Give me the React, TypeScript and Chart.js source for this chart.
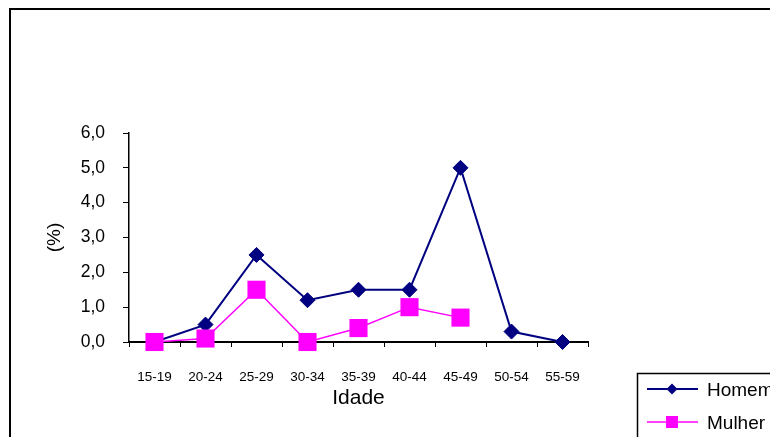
import React, { useEffect, useRef } from "react";
import { Chart, registerables } from "chart.js";

Chart.register(...registerables);

const ageGroups = ["15-19", "20-24", "25-29", "30-34", "35-39", "40-44", "45-49", "50-54", "55-59"];
const homemValues = [0.0, 0.5, 2.5, 1.2, 1.5, 1.5, 5.0, 0.3, 0.0];
const mulherValues: (number | null)[] = [0.0, 0.1, 1.5, 0.0, 0.4, 1.0, 0.7, null, null];
const yTickValues = [0, 1, 2, 3, 4, 5, 6];
const seriesNames = ["Homem", "Mulher"];
const xAxisTitle = "Idade";
const yAxisTitle = "(%)";

const FONT = "'Liberation Sans', Arial, Helvetica, sans-serif";

const framePlugin = {
  id: "frame",
  beforeDraw(chart: any) {
    const ctx = chart.ctx;
    ctx.save();
    ctx.fillStyle = "#ffffff";
    ctx.fillRect(0, 0, chart.width, chart.height);
    ctx.strokeStyle = "#000000";
    ctx.lineWidth = 2;
    ctx.strokeRect(10, 9, 900, 600);
    ctx.restore();
  },
};

const legendPlugin = {
  id: "customLegend",
  afterDraw(chart: any) {
    const ctx = chart.ctx;
    ctx.save();
    ctx.strokeStyle = "#000000";
    ctx.lineWidth = 1.5;
    ctx.strokeRect(637.5, 373.5, 300, 200);
    chart.data.datasets.forEach((ds: any, i: number) => {
      const y = 389 + i * 33;
      ctx.strokeStyle = ds.borderColor;
      ctx.lineWidth = ds.borderWidth;
      ctx.beginPath();
      ctx.moveTo(647, y);
      ctx.lineTo(698, y);
      ctx.stroke();
      ctx.fillStyle = ds.backgroundColor;
      ctx.beginPath();
      const cx = 672;
      if (ds.pointStyle === "rectRot") {
        const r = 5.5;
        ctx.moveTo(cx, y - r);
        ctx.lineTo(cx + r, y);
        ctx.lineTo(cx, y + r);
        ctx.lineTo(cx - r, y);
        ctx.closePath();
      } else {
        const h = 6;
        ctx.rect(cx - h, y - h, 2 * h, 2 * h);
      }
      ctx.fill();
      ctx.fillStyle = "#000000";
      ctx.font = `19px ${FONT}`;
      ctx.textAlign = "left";
      ctx.textBaseline = "middle";
      ctx.fillText(ds.label, 707, y + 2);
    });
    ctx.restore();
  },
};

export default function App() {
  const canvasRef = useRef<HTMLCanvasElement | null>(null);

  useEffect(() => {
    const canvas = canvasRef.current;
    if (!canvas) return;
    const chart = new Chart(canvas, {
      type: "line",
      data: {
        labels: ageGroups,
        datasets: [
          {
            label: seriesNames[0],
            data: homemValues,
            borderColor: "#000080",
            backgroundColor: "#000080",
            borderWidth: 2,
            pointStyle: "rectRot",
            pointRadius: 7.5,
            pointBorderWidth: 1,
            pointBackgroundColor: "#000080",
            pointBorderColor: "#000080",
            tension: 0,
            clip: false,
            order: 2,
          },
          {
            label: seriesNames[1],
            data: mulherValues,
            borderColor: "#ff00ff",
            backgroundColor: "#ff00ff",
            borderWidth: 1.5,
            pointStyle: "rect",
            pointRadius: 12.8,
            pointBorderWidth: 0,
            pointBackgroundColor: "#ff00ff",
            pointBorderColor: "#ff00ff",
            tension: 0,
            clip: false,
            spanGaps: false,
            order: 1,
          },
        ],
      },
      options: {
        animation: false,
        responsive: false,
        maintainAspectRatio: false,
        devicePixelRatio: 1,
        layout: { padding: { left: 0, top: 133, right: 182, bottom: 0 } },
        plugins: {
          legend: { display: false },
          tooltip: { enabled: false },
          title: { display: false },
        },
        font: { family: FONT },
        scales: {
          x: {
            type: "category",
            offset: true,
            grid: {
              offset: true,
              drawOnChartArea: false,
              drawTicks: true,
              tickLength: 5,
              color: "#000000",
              lineWidth: 1,
            },
            border: { display: true, color: "#000000", width: 2 },
            ticks: {
              font: { family: FONT, size: 13.5 },
              color: "#000000",
              padding: 22,
              maxRotation: 0,
              autoSkip: false,
            },
            title: {
              display: true,
              text: xAxisTitle,
              font: { family: FONT, size: 21 },
              color: "#000000",
              padding: { top: 0, bottom: 26 },
            },
            afterFit: (s: any) => {
              s.height = 95;
            },
          },
          y: {
            type: "linear",
            min: 0,
            max: 6,
            afterBuildTicks: (s: any) => {
              s.ticks = yTickValues.map((v) => ({ value: v }));
            },
            ticks: {
              callback: (v: any) => Number(v).toFixed(1).replace(".", ","),
              font: { family: FONT, size: 17.5 },
              color: "#000000",
              padding: 18,
            },
            grid: {
              drawOnChartArea: false,
              drawTicks: true,
              tickLength: 6,
              color: "#000000",
              lineWidth: 1,
            },
            border: { display: true, color: "#000000", width: 1.5 },
            title: {
              display: true,
              text: yAxisTitle,
              font: { family: FONT, size: 19 },
              color: "#000000",
              padding: { top: 43, bottom: 0 },
            },
            afterFit: (s: any) => {
              s.width = 129;
            },
          },
        },
      } as any,
      plugins: [framePlugin, legendPlugin],
    });
    return () => {
      chart.destroy();
    };
  }, []);

  return (
    <div style={{ position: "fixed", left: 0, top: 0, width: 770, height: 437, overflow: "hidden", background: "#fff" }}>
      <canvas ref={canvasRef} width={770} height={437} style={{ width: 770, height: 437, display: "block" }} />
    </div>
  );
}
